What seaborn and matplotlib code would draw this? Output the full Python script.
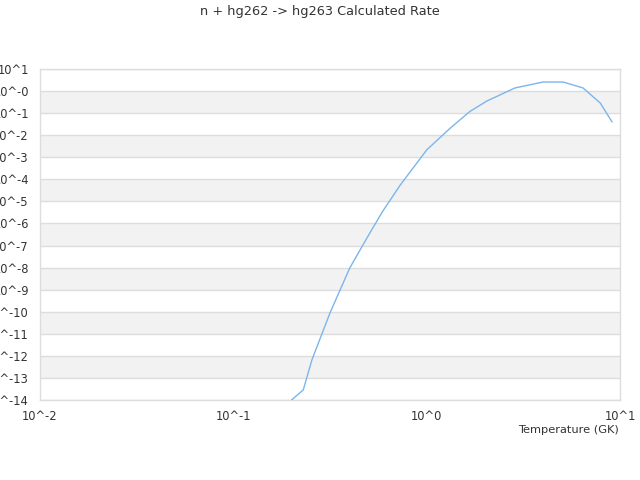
import matplotlib
matplotlib.use("Agg")
import matplotlib.pyplot as plt
import seaborn as sns
import pandas as pd

temperature = [0.20, 0.23, 0.255, 0.316, 0.40, 0.49, 0.59, 0.73, 1.0, 1.32, 1.67, 2.05, 2.86, 4.0, 5.08, 6.44, 7.9, 9.1]
log_rate = [-14.0, -13.54, -12.18, -10.06, -8.02, -6.67, -5.47, -4.26, -2.67, -1.69, -0.93, -0.45, 0.14, 0.41, 0.41, 0.14, -0.54, -1.40]
rate = [10 ** v for v in log_rate]

x_ticks = [0.01, 0.1, 1, 10]
x_labels = ["10^-2", "10^-1", "10^0", "10^1"]
y_exps = list(range(1, -15, -1))
y_labels = ["10^1", "10^-0"] + [f"10^{e}" for e in range(-1, -15, -1)]

df = pd.DataFrame({"T": temperature, "rate": rate})

sns.set_style("white")
plt.rcParams['font.family'] = ['DejaVu Sans']

fig = plt.figure(figsize=(6.4, 4.8), dpi=100)
ax = fig.add_axes([40 / 640, 1 - 400 / 480, 580 / 640, 331 / 480])

for e in range(0, -14, -2):
    ax.axhspan(10 ** (e - 1), 10 ** e, color="#f2f2f2", zorder=0, lw=0)
for e in y_exps:
    ax.axhline(10 ** e, color="#dddddd", lw=1, zorder=1)

sns.lineplot(data=df, x="T", y="rate", ax=ax, color="#7cb5ec", lw=1, zorder=3)

ax.set_xscale("log")
ax.set_yscale("log")
ax.set_xlim(0.01, 10)
ax.set_ylim(1e-14, 10)
ax.set_xticks(x_ticks)
ax.set_xticklabels(x_labels)
ax.set_yticks([10 ** e for e in y_exps])
ax.set_yticklabels(y_labels)
ax.minorticks_off()
ax.tick_params(axis="both", length=0, labelsize=8.3, colors="#333333")
ax.tick_params(axis="y", pad=8)
ax.tick_params(axis="x", pad=7)
for s in ax.spines.values():
    s.set_color("#dddddd")
    s.set_linewidth(1)
ax.set_ylabel("")
ax.set_xlabel("Temperature (GK)", fontsize=8.2, color="#333333")
ax.xaxis.set_label_coords(0.998, -0.075)
ax.xaxis.label.set_horizontalalignment("right")

fig.text(0.5, 1 - 12 / 480, "n + hg262 -> hg263 Calculated Rate", ha="center", va="center",
         fontsize=9.3, color="#333333")

fig.savefig("out.png", dpi=100)
